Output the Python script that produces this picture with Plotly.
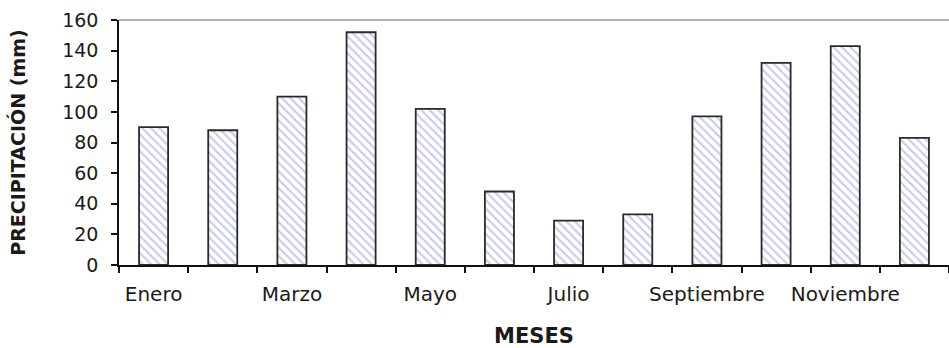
import plotly.graph_objects as go

# Monthly precipitation (mm)
months = ["Enero", "Febrero", "Marzo", "Abril", "Mayo", "Junio",
          "Julio", "Agosto", "Septiembre", "Octubre", "Noviembre", "Diciembre"]
precip = [90, 88, 110, 152, 102, 48, 29, 33, 97, 132, 143, 83]
y_ticks = [0, 20, 40, 60, 80, 100, 120, 140, 160]

x_pos = list(range(len(months)))
label_pos = x_pos[::2]
label_text = months[::2]
boundaries = [i - 0.5 for i in range(len(months) + 1)]

font_family = "DejaVu Sans"
ink = "#1a1a1a"

fig = go.Figure(
    go.Bar(
        x=x_pos,
        y=precip,
        width=0.42,
        customdata=months,
        hovertemplate="%{customdata}: %{y} mm<extra></extra>",
        marker=dict(
            color="white",
            line=dict(color="#2a2a2a", width=1.8),
            pattern=dict(shape="\\", fgcolor="#8c96d6", bgcolor="white",
                         size=6, solidity=0.35),
        ),
    )
)

fig.update_layout(
    width=949,
    height=348,
    margin=dict(l=119, r=0, t=20, b=83, autoexpand=False),
    paper_bgcolor="white",
    plot_bgcolor="white",
    showlegend=False,
    font=dict(family=font_family, color=ink, size=19),
    shapes=[
        dict(type="line", xref="paper", yref="paper", x0=0, x1=1, y0=1, y1=1,
             line=dict(color="#9a9a9a", width=1.5)),
    ],
)

fig.update_xaxes(
    range=[-0.5, len(months) - 0.5],
    tickmode="array",
    tickvals=label_pos,
    ticktext=label_text,
    ticks="",
    showgrid=False,
    zeroline=False,
    showline=True,
    linecolor="#111111",
    linewidth=1.5,
    ticklabelstandoff=10,
    tickfont=dict(family=font_family, size=20, color=ink),
    minor=dict(tickmode="array", tickvals=boundaries, ticks="outside",
               ticklen=6, tickwidth=1.5, tickcolor="#111111", showgrid=False),
    title=dict(text="<b>MESES</b>", standoff=32,
               font=dict(family=font_family, size=21, color=ink)),
    automargin=False,
)

fig.update_yaxes(
    range=[0, 160],
    tickmode="array",
    tickvals=y_ticks,
    ticks="outside",
    ticklen=6,
    tickwidth=1.5,
    tickcolor="#111111",
    showgrid=False,
    zeroline=False,
    showline=True,
    linecolor="#111111",
    linewidth=1.5,
    ticklabelstandoff=9,
    tickfont=dict(family=font_family, size=19, color=ink),
    title=dict(text="<b>PRECIPITACIÓN (mm)</b>", standoff=32,
               font=dict(family=font_family, size=19, color=ink)),
    automargin=False,
)

fig.write_html("out.html")
